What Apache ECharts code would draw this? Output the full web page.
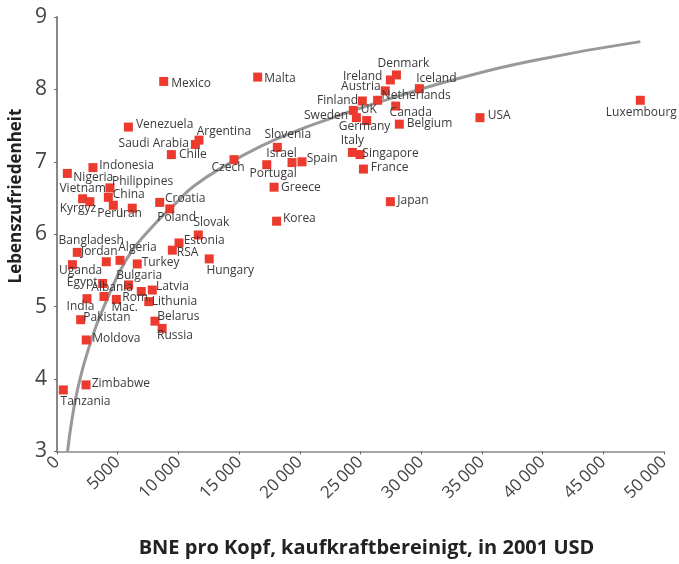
<!DOCTYPE html>
<html>
<head>
<meta charset="utf-8">
<script src="https://cdn.jsdelivr.net/npm/echarts@6/dist/echarts.min.js"></script>
<style>
html,body{margin:0;padding:0;background:#fff;}
#chart{width:679px;height:564px;}
</style>
</head>
<body>
<div id="chart"></div>
<script>
// ---- data ----
var countries = ["Mexico","Malta","Venezuela","Saudi Arabia","Argentina","Chile","Czech","Slovenia","Israel","Portugal","Spain","Greece","Korea","Indonesia","Nigeria","Philippines","China","Vietnam","Kyrgyz","Peru","Iran","Croatia","Poland","Slovak","Estonia","RSA","Hungary","Bangladesh","Jordan","Algeria","Uganda","Turkey","Egypt","Bulgaria","Albania","Rom.","Mac.","Latvia","Lithunia","India","Pakistan","Moldova","Belarus","Russia","Zimbabwe","Tanzania","Denmark","Ireland","Austria","Iceland","Finland","Netherlands","UK","Sweden","Germany","Canada","Belgium","USA","Luxembourg","Italy","Singapore","France","Japan"];
var gniPerCapita = [8790,16530,5880,11400,11700,9420,14580,18150,19360,17280,20180,17880,18090,2960,850,4360,4230,2110,2710,4640,6200,8460,9290,11640,10050,9500,12540,1670,4060,5190,1270,6610,3760,5900,3870,4890,6940,7850,7560,2470,1950,2410,8070,8660,2390,520,27960,27460,27040,29850,25150,26410,24410,24660,25510,27900,28200,34840,48050,24330,24960,25240,27460];
var lifeSatisfaction = [8.11,8.17,7.48,7.24,7.30,7.10,7.03,7.20,6.99,6.96,7.00,6.65,6.18,6.92,6.84,6.64,6.51,6.49,6.45,6.40,6.36,6.44,6.35,5.99,5.88,5.78,5.66,5.75,5.62,5.64,5.58,5.59,5.32,5.30,5.14,5.10,5.21,5.23,5.07,5.11,4.82,4.54,4.80,4.70,3.92,3.85,8.20,8.13,7.98,8.01,7.84,7.85,7.71,7.61,7.57,7.77,7.52,7.61,7.85,7.13,7.10,6.90,6.45];
var trendX = [870,1210,1620,2170,2990,3840,5740,7660,9860,11230,13980,16720,19470,22210,24960,27980,32370,38960,48050];
var trendY = [3.0,3.42,3.80,4.18,4.62,4.99,5.66,6.07,6.44,6.66,6.96,7.21,7.41,7.58,7.74,7.90,8.12,8.39,8.66];
var xTicks = {min:0, max:50000, step:5000};
var yTicks = {min:3, max:9, step:1};

// label placement (align, dx, dy) per country, same order as countries
var labelPlacement = [
 ["L",7.5,2],["L",6.5,1],["L",7.5,-2],["R",-6.5,-1],["L",-2.3,-9],["L",7.7,0],["C",-6,8],["C",10.4,-12.3],["R",4.7,-9],["C",6.3,8.7],
 ["L",4.7,-3],["L",7,0],["L",6.3,-2.7],["L",6.3,-2.3],["L",6,4],["L",2,-6],["L",4.4,-2.7],["C",0,-9.7],["C",-12,6.7],["C",-3,8],
 ["C",-1.5,5.3],["L",5.3,-4.3],["C",6.8,8.7],["C",13,-12.3],["L",4.7,-2.4],["L",4.4,2],["C",21,11.3],["C",13.9,-11.4],["C",-7,-10.3],["C",17.5,-12.3],
 ["C",8.2,6.4],["L",4.4,-1.7],["R",-5,-1],["C",10.5,-9.3],["C",8.2,-8.6],["L",6,-2.3],["C",-16.6,15.7],["L",3.7,-3.3],["L",3,0],["C",-6.5,7.7],
 ["L",2.6,-2.3],["L",6,-1],["L",2.3,-4.3],["C",12.8,7.6],["L",5.7,-1],["C",22.2,12],["C",7,-11],["R",-8,-3.4],["R",-4.6,-4],["C",17,-10],
 ["R",-4.3,-0.7],["L",4,-4.7],["L",7.4,-1.3],["R",-8.3,-1.7],["C",-2.2,5.6],["C",15,6.7],["L",7.4,-1],["L",7.7,-2.4],["C",1,12.7],["C",0,-11.4],
 ["L",2.3,-1],["L",7.4,-1.3],["L",7,-1.3]
];

var alignMap = {L:'left', R:'right', C:'center'};
var scatterData = countries.map(function(name, i){
  var p = labelPlacement[i];
  return {
    name: name,
    value: [gniPerCapita[i], lifeSatisfaction[i]],
    label: {
      show: true,
      formatter: name,
      position: ['50%','50%'],
      align: alignMap[p[0]],
      verticalAlign: 'middle',
      offset: [p[1], p[2]]
    }
  };
});
var trendData = trendX.map(function(x,i){ return [x, trendY[i]]; });

var chart = echarts.init(document.getElementById('chart'), null, {renderer:'canvas'});
var labelColor = '#444';
chart.setOption({
  animation: false,
  backgroundColor: '#fff',
  grid: {left:57, right:15, top:17, bottom:112.5, containLabel:false, outerBoundsMode:'none'},
  xAxis: {
    type: 'value', min: xTicks.min, max: xTicks.max, interval: xTicks.step,
    name: 'BNE pro Kopf, kaufkraftbereinigt, in 2001 USD',
    nameLocation: 'middle', nameGap: 87,
    nameTextStyle: {fontFamily:'Open Sans', fontWeight:'bold', fontSize:20, color:'#222', padding:[0,0,0,12]},
    axisLine: {show:true, onZero:false, lineStyle:{color:'#888', width:1.5}},
    axisTick: {show:true, length:3, lineStyle:{color:'#666'}},
    splitLine: {show:false},
    axisLabel: {
      rotate: 45, margin: 8, fontFamily:'Open Sans', fontSize:17, color: labelColor,
      formatter: function(v){ var s = String(v); return v >= 10000 ? s.slice(0, s.length-3) + '\u2009' + s.slice(-3) : s; }
    }
  },
  yAxis: {
    type: 'value', min: yTicks.min, max: yTicks.max, interval: yTicks.step,
    axisLine: {show:true, onZero:false, lineStyle:{color:'#888', width:2}},
    axisTick: {show:true, length:3, lineStyle:{color:'#666'}},
    splitLine: {show:false},
    axisLabel: {margin: 10, fontFamily:'Open Sans', fontSize:21, color: labelColor}
  },
  graphic: [{
    type: 'text', x: 16.5, y: 196, rotation: Math.PI/2,
    style: {text:'Lebenszufriedenheit', font:'bold 17px "Open Sans"', fill:'#222', align:'center', verticalAlign:'middle'}
  }],
  series: [
    {
      type: 'line', data: trendData, smooth: 0.5, showSymbol: false, silent: true, z: 1,
      lineStyle: {color:'#999', width:3}
    },
    {
      type: 'scatter', data: scatterData, symbol: 'rect', symbolSize: 9, z: 3,
      itemStyle: {color:'#ec3a2e', opacity: 1},
      label: {fontFamily:'Open Sans', fontSize:12, color:'#3a3a3a', textBorderWidth:0},
      emphasis: {disabled:true}
    }
  ]
});
</script>
</body>
</html>
